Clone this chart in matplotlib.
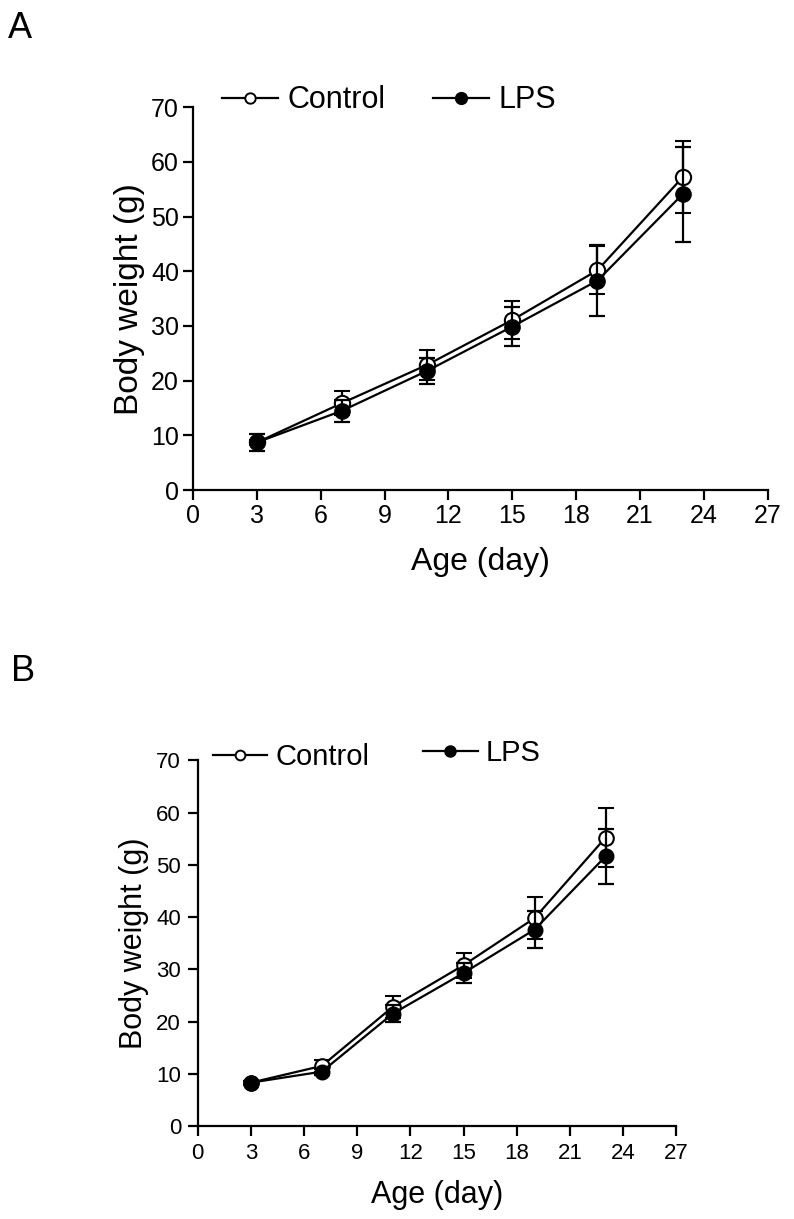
import matplotlib.pyplot as plt
from matplotlib.lines import Line2D

plt.rcParams['font.family'] = ['Liberation Sans', 'DejaVu Sans']

days = [3, 7, 11, 15, 19, 23]

# panel A
ctrl_a = [8.7, 15.9, 22.9, 31.1, 40.2, 57.2]
ctrl_a_sd = [0.5, 2.2, 2.7, 3.5, 4.4, 6.6]
lps_a = [8.7, 14.5, 21.8, 29.9, 38.3, 54.1]
lps_a_sd = [1.5, 2.0, 2.4, 3.5, 6.5, 8.7]

# panel B
ctrl_b = [8.3, 11.5, 22.8, 30.8, 39.8, 55.2]
ctrl_b_sd = [0.4, 1.2, 2.1, 2.4, 4.0, 5.7]
lps_b = [8.3, 10.4, 21.5, 29.3, 37.6, 51.6]
lps_b_sd = [0.4, 0.6, 1.6, 1.9, 3.5, 5.3]

xticks = [0, 3, 6, 9, 12, 15, 18, 21, 24, 27]
yticks = [0, 10, 20, 30, 40, 50, 60, 70]

LW = 1.6

fig = plt.figure(figsize=(7.94, 12.19), dpi=100)
ax_a = fig.add_axes([0.243, 0.598, 0.724, 0.314])
ax_b = fig.add_axes([0.249, 0.0763, 0.603, 0.300])


def draw_panel(ax, ctrl, ctrl_sd, lps, lps_sd, ms, tick_fs, xl_fs, yl_fs,
               xpad, ypad, tpad):
    ax.errorbar(days, ctrl, yerr=ctrl_sd, color='black', lw=LW, marker='o',
                ms=ms, mfc='white', mec='black', mew=1.5, capsize=6,
                elinewidth=LW, capthick=LW, zorder=3)
    ax.errorbar(days, lps, yerr=lps_sd, color='black', lw=LW, marker='o',
                ms=ms, mfc='black', mec='black', capsize=6,
                elinewidth=LW, capthick=LW, zorder=4)
    ax.set_xlim(0, 27)
    ax.set_ylim(0, 70)
    ax.set_xticks(xticks)
    ax.set_yticks(yticks)
    ax.spines['top'].set_visible(False)
    ax.spines['right'].set_visible(False)
    for s in ['left', 'bottom']:
        ax.spines[s].set_linewidth(LW)
    ax.tick_params(width=LW, length=7, labelsize=tick_fs, direction='out',
                   pad=tpad)
    ax.set_xlabel('Age (day)', fontsize=xl_fs, labelpad=xpad)
    ax.set_ylabel('Body weight (g)', fontsize=yl_fs, labelpad=ypad)


draw_panel(ax_a, ctrl_a, ctrl_a_sd, lps_a, lps_a_sd, 11, 18, 23, 24, 14, 4, 3)
draw_panel(ax_b, ctrl_b, ctrl_b_sd, lps_b, lps_b_sd, 10.5, 16, 22, 22, 12, 5, 5)


def handles(ms_open, ms_fill):
    h_ctrl = Line2D([], [], color='black', lw=LW, marker='o', ms=ms_open,
                    mfc='white', mec='black', mew=1.4)
    h_lps = Line2D([], [], color='black', lw=LW, marker='o', ms=ms_fill,
                   mfc='black', mec='black')
    return h_ctrl, h_lps


h_ctrl, h_lps = handles(7.5, 8.5)
ax_a.legend([h_ctrl, h_lps], ['Control', 'LPS'], ncol=2, frameon=False,
            fontsize=22, loc='center left', bbox_to_anchor=(0.05, 1.018),
            handlelength=1.85, handletextpad=0.3, columnspacing=1.55,
            borderaxespad=0, borderpad=0)

h_ctrl, h_lps = handles(7, 8)
leg1 = ax_b.legend([h_ctrl], ['Control'], frameon=False, fontsize=21,
                   loc='center left', bbox_to_anchor=(0.031, 1.008),
                   handlelength=1.88, handletextpad=0.27, borderaxespad=0,
                   borderpad=0)
ax_b.add_artist(leg1)
ax_b.legend([h_lps], ['LPS'], frameon=False, fontsize=21,
            loc='center left', bbox_to_anchor=(0.47, 1.019),
            handlelength=1.88, handletextpad=0.27, borderaxespad=0,
            borderpad=0)

fig.text(0.01, 0.969, 'A', fontsize=26)
fig.text(0.014, 0.441, 'B', fontsize=26)

fig.savefig('out.png', dpi=100)
